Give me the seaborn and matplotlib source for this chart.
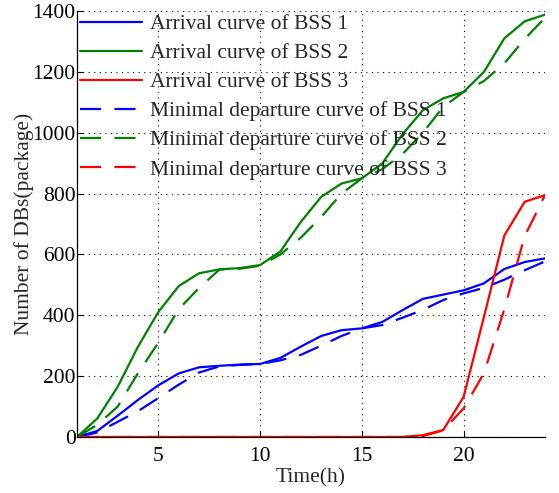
import numpy as np
import pandas as pd
import matplotlib
matplotlib.use("Agg")
import matplotlib.pyplot as plt
import seaborn as sns

# Hourly cumulative counts of data blocks per BSS
hours = list(range(1, 25))

arrival_bss1 = [0, 20, 70, 122, 170, 209, 229, 234, 238, 240, 260, 297,
                332, 351, 357, 378, 417, 454, 468, 482, 505, 552, 575, 587]
arrival_bss2 = [0, 61, 165, 297, 411, 496, 538, 551, 555, 565, 610, 707,
                789, 833, 850, 899, 995, 1074, 1113, 1134, 1200, 1310, 1366, 1388]
arrival_bss3 = [0, 0, 0, 0, 0, 0, 0, 0, 0, 0, 0, 0,
                0, 0, 0, 0, 0, 6, 23, 132, 395, 662, 773, 795]

departure_bss1 = [0, 15, 50, 85, 128, 172, 212, 232, 237, 240, 252, 270,
                  300, 332, 357, 368, 392, 418, 450, 472, 490, 517, 548, 577]
departure_bss2 = [0, 40, 100, 210, 310, 420, 490, 550, 553, 563, 600, 655,
                  723, 800, 850, 880, 930, 1000, 1085, 1134, 1170, 1228, 1308, 1378]
departure_bss3 = [0, 0, 0, 0, 0, 0, 0, 0, 0, 0, 0, 0,
                  0, 0, 0, 0, 0, 3, 22, 94, 210, 420, 660, 795]

series = [
    ("Arrival curve of BSS 1", arrival_bss1, "#0000ff", "-"),
    ("Arrival curve of BSS 2", arrival_bss2, "#008000", "-"),
    ("Arrival curve of BSS 3", arrival_bss3, "#ff0000", "-"),
    ("Minimal departure curve of BSS 1", departure_bss1, "#0000ff", "--"),
    ("Minimal departure curve of BSS 2", departure_bss2, "#008000", "--"),
    ("Minimal departure curve of BSS 3", departure_bss3, "#ff0000", "--"),
]

sns.set_style("ticks")
plt.rcParams["font.family"] = ["Liberation Serif", "DejaVu Serif"]

fig = plt.figure(figsize=(5.59, 4.93), dpi=100)
ax = fig.add_axes([0.1377, 0.1136, 0.975 - 0.1377, 0.9777 - 0.1136])

for label, values, color, ls in series:
    df = pd.DataFrame({"hour": hours, "count": values})
    sns.lineplot(data=df, x="hour", y="count", ax=ax, color=color,
                 linewidth=1.6, label=label)
    if ls == "--":
        ax.lines[-1].set_dashes((9.5, 6))

ax.set_xlim(1, 24)
ax.set_ylim(0, 1400)
ax.set_xticks([5, 10, 15, 20])
ax.set_yticks(range(0, 1401, 200))
ax.tick_params(direction="in", length=4, width=0.8, labelsize=15.5,
               colors="black")
ax.tick_params(axis="x", pad=7)
ax.tick_params(axis="y", pad=1)
ax.grid(True, linestyle=(0, (1, 4)), color="black", linewidth=0.8)
for side in ("top", "right"):
    ax.spines[side].set_visible(False)
for side in ("left", "bottom"):
    ax.spines[side].set_linewidth(0.9)
    ax.spines[side].set_color("black")

ax.set_xlabel("Time(h)", fontsize=15.5, labelpad=2)
ax.set_ylabel("Number of DBs(package)", fontsize=15.5, labelpad=-1)

leg = ax.legend(loc="upper left", frameon=False, fontsize=15.5,
                handlelength=2.9, handletextpad=0.35, labelspacing=0.42,
                borderaxespad=0.0, borderpad=0.0,
                bbox_to_anchor=(0.006, 0.993))

fig.savefig("out.png", dpi=100)
